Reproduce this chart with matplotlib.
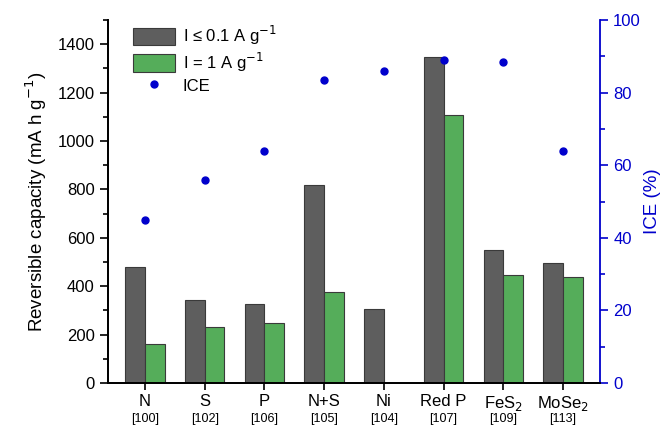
import numpy as np
import matplotlib.pyplot as plt
from matplotlib.ticker import MultipleLocator

plt.rcParams['font.family'] = ['Liberation Sans', 'DejaVu Sans']

# data
labels = ['N', 'S', 'P', 'N+S', 'Ni', 'Red P', 'FeS$_2$', 'MoSe$_2$']
refs = ['[100]', '[102]', '[106]', '[105]', '[104]', '[107]', '[109]', '[113]']
cap_low = [480, 345, 325, 820, 305, 1348, 550, 495]
cap_high = [162, 232, 247, 375, 0, 1107, 447, 437]
ice = [45, 56, 64, 83.5, 86, 89, 88.3, 63.8]

gray = '#5e5e5e'
green = '#55ad5a'
blue = '#0000cc'

fig = plt.figure(figsize=(6.6, 4.29), dpi=100)
ax = fig.add_axes([108 / 660, 1 - 383 / 429, 492 / 660, 363 / 429])
ax2 = ax.twinx()

x = np.arange(len(labels))
w = 0.33
b1 = ax.bar(x - w / 2, cap_low, w, color=gray, edgecolor='#3a3a3a', linewidth=0.8,
            label='I \u2264 0.1 A g$^{-1}$', zorder=2)
b2 = ax.bar(x + w / 2, cap_high, w, color=green, edgecolor='#3a3a3a', linewidth=0.8,
            label='I = 1 A g$^{-1}$', zorder=2)
sc = ax2.plot(x, ice, 'o', color=blue, markersize=5, label='ICE', zorder=3)[0]

ax.set_xlim(-0.62, 7.62)
ax.set_ylim(0, 1500)
ax2.set_ylim(0, 100)

ax.set_xticks(x)
ax.set_xticklabels(labels, fontsize=12)
ax.tick_params(axis='x', length=5, width=1.2, direction='out', pad=3)
for xi, r in zip(x, refs):
    ax.text(xi, -0.082, r, transform=ax.get_xaxis_transform(), ha='center', va='top', fontsize=9)

ax.yaxis.set_major_locator(MultipleLocator(200))
ax.yaxis.set_minor_locator(MultipleLocator(100))
ax.tick_params(axis='y', which='major', length=6, width=1.2, labelsize=12)
ax.tick_params(axis='y', which='minor', length=3.5, width=1.2)
ax.set_ylabel('Reversible capacity (mA h g$^{-1}$)', fontsize=13.5, labelpad=6)

ax2.yaxis.set_major_locator(MultipleLocator(20))
ax2.yaxis.set_minor_locator(MultipleLocator(10))
ax2.tick_params(axis='y', which='major', length=6, width=1.2, labelsize=12, colors=blue)
ax2.tick_params(axis='y', which='minor', length=3.5, width=1.2, colors=blue)
ax2.set_ylabel('ICE (%)', fontsize=13.5, color=blue, labelpad=2)

for a in (ax, ax2):
    a.spines['top'].set_visible(False)
    a.spines['left'].set_linewidth(1.3)
    a.spines['bottom'].set_linewidth(1.3)
    a.spines['right'].set_linewidth(1.3)
ax2.spines['right'].set_color(blue)
ax.spines['right'].set_visible(False)

ax.legend(handles=[b1, b2, sc], loc='upper left', bbox_to_anchor=(0.02, 1.03), frameon=False,
          fontsize=12, handlelength=2.5, handleheight=1.2, labelspacing=0.2, handletextpad=0.5)

fig.savefig('out.png', dpi=100)
